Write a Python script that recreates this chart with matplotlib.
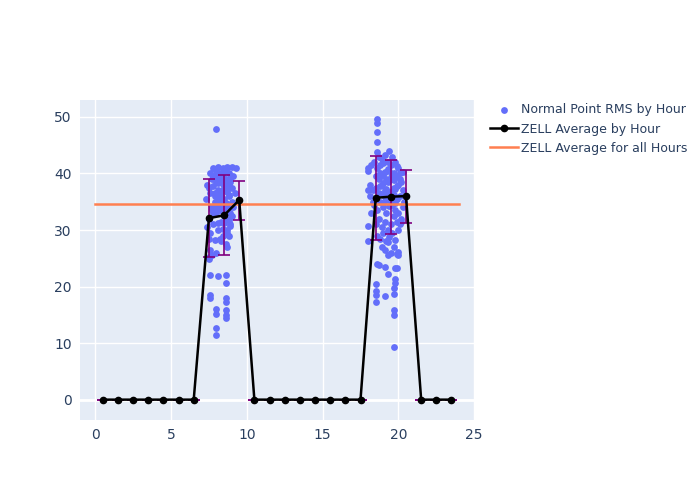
import numpy as np
import matplotlib.pyplot as plt

# hourly averages and standard deviations
hours = np.arange(0.5, 24, 1.0)
avg = [0, 0, 0, 0, 0, 0, 0, 32.1, 32.6, 35.3, 0, 0, 0, 0, 0, 0, 0, 0,
       35.7, 35.9, 36.0, 0, 0, 0]
err_lo = [0, 0, 0, 0, 0, 0, 0, 6.9, 7.1, 3.6, 0, 0, 0, 0, 0, 0, 0, 0,
          7.5, 6.6, 4.7, 0, 0, 0]
err_hi = [0, 0, 0, 0, 0, 0, 0, 6.9, 7.1, 3.4, 0, 0, 0, 0, 0, 0, 0, 0,
          7.4, 6.5, 4.7, 0, 0, 0]
overall_avg = 34.6

# normal point RMS values (morning pass)
am_x = [7.3, 7.4, 7.5, 7.5, 7.6, 7.6, 7.7, 7.7, 7.8, 7.8, 7.9, 7.9, 8.0, 8.0,
        8.0, 8.1, 8.1, 8.2, 8.2, 8.3, 8.3, 8.4, 8.4, 8.5, 8.5, 8.6, 8.6, 8.7,
        8.7, 8.8, 8.8, 8.9, 8.9, 9.0, 9.0, 9.1, 9.2, 9.3, 7.4, 7.6, 7.8, 7.9,
        8.0, 8.1, 8.2, 8.3, 8.4, 8.5, 8.6, 8.7, 8.8, 8.9, 9.0, 9.1, 7.5, 7.7,
        7.9, 8.1, 8.3, 8.5, 8.7, 8.9, 8.2, 8.4, 8.6, 8.8, 7.6, 8.0, 8.3, 8.7,
        8.0, 7.6, 7.6, 7.6, 8.0, 8.0, 8.0, 8.0, 8.1, 8.6, 8.6, 8.6, 8.6, 8.6,
        8.6, 8.6, 7.5, 7.5, 7.7, 8.2, 8.8, 9.0, 8.6,
        7.8, 8.0, 8.2, 8.4, 8.6, 8.8, 7.9, 8.1, 8.3, 8.5, 8.7, 8.9, 8.0, 8.2,
        8.4, 8.6, 8.8, 7.8, 8.1, 8.4, 8.7, 8.3, 8.5, 8.9]
am_y = [35.5, 38.0, 37.5, 32.0, 40.0, 36.5, 39.0, 34.0, 41.0, 37.8, 39.5, 36.0,
        40.5, 38.5, 35.0, 41.2, 37.0, 40.0, 33.5, 39.8, 36.8, 41.0, 38.2, 40.2,
        35.5, 39.0, 37.2, 41.2, 34.5, 40.0, 36.0, 38.5, 33.0, 37.5, 35.0, 39.5,
        36.5, 41.0, 30.5, 29.5, 31.0, 28.2, 33.0, 30.0, 28.5, 31.5, 29.0, 32.5,
        27.5, 30.0, 29.0, 31.0, 32.5, 34.0, 28.5, 33.5, 35.0, 36.0, 34.5, 33.8,
        32.0, 34.0, 39.0, 37.0, 38.0, 36.2, 26.5, 26.0, 28.0, 27.0,
        47.8, 22.0, 18.5, 18.0, 16.0, 15.2, 12.6, 11.4, 21.8, 22.0, 20.6, 18.0,
        17.3, 15.8, 15.0, 14.5, 25.3, 24.8, 25.5, 35.5, 37.5, 41.2, 29.3,
        39.5, 39.0, 38.8, 39.3, 40.5, 38.0, 36.5, 38.3, 36.0, 37.5, 36.8, 39.2,
        34.0, 35.2, 33.2, 34.8, 31.8, 33.0, 31.3, 30.2, 29.5, 35.8, 31.2, 30.8]

# normal point RMS values (evening pass)
pm_x = [18.0, 18.1, 18.2, 18.3, 18.4, 18.5, 18.6, 18.7, 18.8, 18.9, 19.0,
        19.1, 19.2, 19.3, 19.4, 19.5, 19.6, 19.7, 19.8, 19.9, 20.0, 20.1,
        20.2, 20.3, 18.1, 18.3, 18.5, 18.7, 18.9, 19.1, 19.3, 19.5, 19.7,
        19.9, 20.1, 20.3, 18.2, 18.4, 18.6, 18.8, 19.0, 19.2, 19.4, 19.6,
        19.8, 20.0, 20.2, 18.5, 18.7, 18.9, 19.1, 19.3, 19.5, 19.7, 19.9,
        20.1, 18.6, 18.8, 19.0, 19.2, 19.4, 19.6, 19.8, 20.0, 18.9, 19.1,
        19.3, 19.5, 19.7, 18.0, 18.0, 18.0, 18.0, 20.2, 20.4,
        18.6, 18.6, 18.6, 18.6, 18.6, 18.5, 18.5, 18.5, 18.5, 18.6, 18.7,
        19.1, 19.1, 19.3, 19.3, 19.7, 19.7, 19.7, 19.7, 19.7, 19.8, 19.8,
        19.8, 19.9, 19.9, 20.0, 20.0, 19.0, 19.4, 18.8,
        18.7, 18.9, 19.1, 19.3, 19.5, 19.7, 19.9, 18.8, 19.0, 19.2, 19.4,
        19.6, 19.8, 20.0, 18.9, 19.1, 19.3, 19.5, 19.7, 19.9, 19.0, 19.2,
        19.4, 19.6, 19.8, 20.1, 20.3]
pm_y = [40.5, 38.0, 41.5, 37.0, 42.0, 39.5, 41.0, 43.0, 40.0, 42.5, 41.8,
        43.2, 39.0, 42.0, 40.5, 41.5, 43.0, 40.0, 42.0, 39.5, 41.0, 40.0,
        38.5, 37.0, 36.0, 35.0, 37.5, 36.5, 38.0, 37.0, 38.5, 36.8, 37.5,
        35.5, 36.0, 34.0, 33.0, 34.5, 33.5, 35.0, 34.0, 33.0, 35.5, 34.5,
        33.5, 33.0, 32.0, 31.0, 32.0, 30.5, 31.5, 30.0, 31.0, 32.5, 31.5,
        31.0, 29.0, 28.5, 29.5, 28.0, 28.8, 29.5, 28.2, 30.0, 27.0, 26.5,
        27.8, 26.0, 27.0, 28.0, 30.8, 37.0, 41.0, 31.5, 35.0,
        49.6, 49.0, 47.4, 45.5, 43.8, 20.5, 19.2, 18.5, 17.3, 24.0, 23.8,
        18.3, 23.5, 22.3, 25.6, 9.3, 15.8, 15.0, 19.8, 18.7, 20.7, 21.3,
        23.3, 23.3, 25.8, 26.2, 25.5, 39.8, 44.0, 41.5,
        39.0, 39.8, 40.2, 40.8, 39.3, 38.8, 41.3, 37.8, 38.3, 37.2, 38.8,
        39.8, 37.2, 38.0, 36.3, 35.8, 36.8, 35.2, 36.2, 37.8, 34.8, 35.3,
        34.2, 36.0, 34.8, 39.0, 40.3]

fig = plt.figure(figsize=(7, 5), dpi=100)
ax = fig.add_axes([80 / 700, 80 / 500, 395 / 700, 320 / 500])
ax.set_facecolor('#E5ECF6')

ax.scatter(am_x + pm_x, am_y + pm_y, s=24, color='#636efa', zorder=3,
           label='Normal Point RMS by Hour', linewidths=0)
ax.errorbar(hours, avg, yerr=[err_lo, err_hi], fmt='none', ecolor='purple',
            elinewidth=1.2, capsize=4, capthick=1.2, zorder=4)
ax.plot(hours, avg, color='black', marker='o', ms=4.5, lw=1.8, zorder=5,
        label='ZELL Average by Hour')
ax.plot([0, 24], [overall_avg, overall_avg], color='#ff7f50', lw=1.8, zorder=4,
        label='ZELL Average for all Hours')

ax.set_xlim(-1, 25.05)
ax.set_ylim(-3.6, 53)
ax.set_xticks(range(0, 26, 5))
ax.set_yticks(range(0, 51, 10))
ax.grid(color='white', lw=1)
ax.axhline(0, color='white', lw=2, zorder=1)
ax.set_axisbelow(True)
for s in ax.spines.values():
    s.set_visible(False)
ax.tick_params(length=0, colors='#2a3f5f', labelsize=10, pad=6)

leg = ax.legend(loc='upper left', bbox_to_anchor=(1.01, 1.025), frameon=False,
                fontsize=9, labelcolor='#2a3f5f', handlelength=2.2,
                handletextpad=0.3)

fig.savefig('out.png')
